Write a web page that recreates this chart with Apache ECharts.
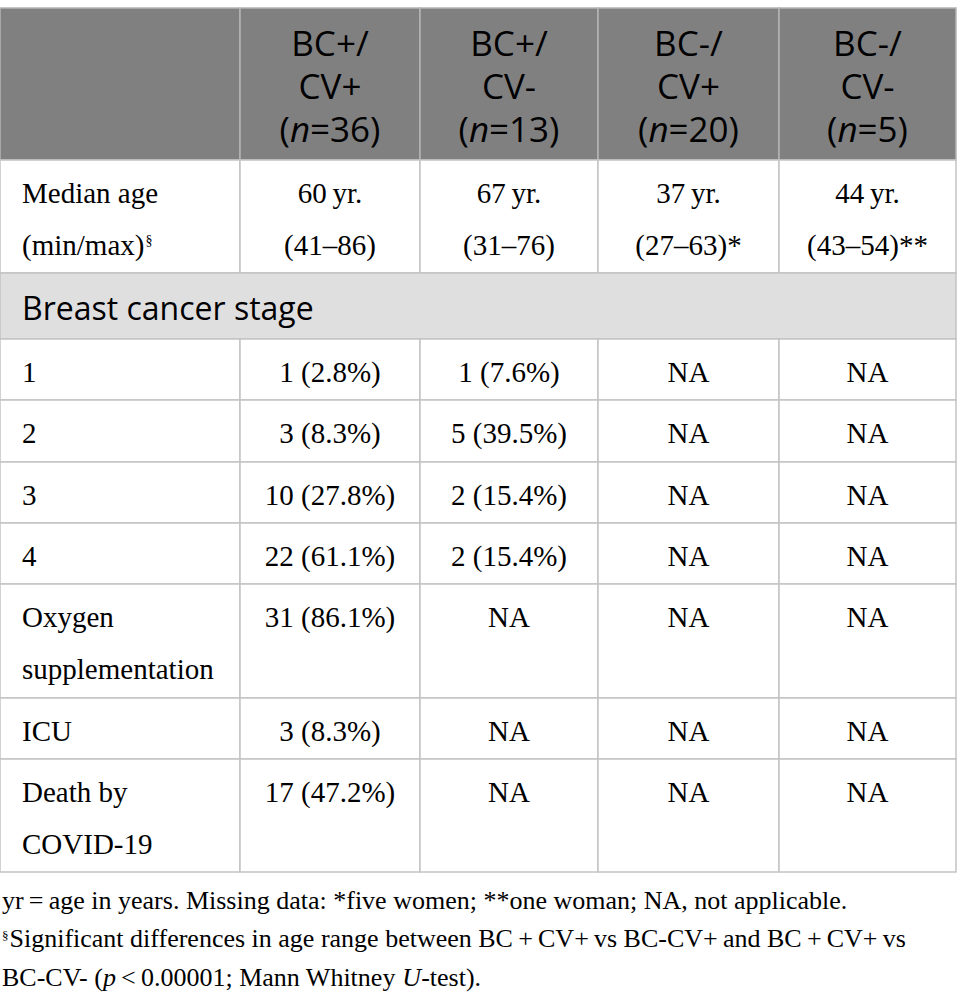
<!DOCTYPE html>
<html>
<head>
<meta charset="utf-8">
<script src="https://cdn.jsdelivr.net/npm/echarts@6/dist/echarts.min.js"></script>
<style>
  html, body { margin: 0; padding: 0; background: #fff; }
  #main { width: 957px; height: 1004px; }
</style>
</head>
<body>
<div id="main"></div>
<script>
// 表格内容
const groupTop = ['BC+/', 'BC+/', 'BC-/', 'BC-/'];
const groupMid = ['CV+', 'CV-', 'CV+', 'CV-'];
const groupN = [36, 13, 20, 5];
const medianAge = [60, 67, 37, 44];
const ageRange = ['(41–86)', '(31–76)', '(27–63)*', '(43–54)**'];
const sectionTitle = 'Breast cancer stage';
const stageLabels = ['1', '2', '3', '4'];
const stageBCpCVp = ['1 (2.8%)', '3 (8.3%)', '10 (27.8%)', '22 (61.1%)'];
const stageBCpCVm = ['1 (7.6%)', '5 (39.5%)', '2 (15.4%)', '2 (15.4%)'];
const outcomeLabels = [['Oxygen', 'supplementation'], ['ICU'], ['Death by', 'COVID-19']];
const outcomeBCpCVp = ['31 (86.1%)', '3 (8.3%)', '17 (47.2%)'];
const notApplicable = 'NA';
const footnotes = [
  '{f|yr\u2009=\u2009age in years. Missing data: *five women; **one woman; NA, not applicable.}',
  '{sup|§}{f|Significant differences in age range between BC\u2009+\u2009CV+\u2009vs BC-CV+\u2009and BC\u2009+\u2009CV+\u2009vs}',
  '{f|BC-CV- (}{fi|p}{f|\u2009<\u20090.00001; Mann Whitney }{fi|U}{f|-test).}'
];

// 版式
const W = 957, H = 1004;
const colEdges = [0, 240, 420, 598, 779, 956];
const rowEdges = [8, 160, 273, 339, 400, 462, 523, 584, 698, 759, 872];
const SERIF = '"Liberation Serif", "Times New Roman", serif';
const SANS = '"Open Sans", "Noto Sans", sans-serif';
const INK = '#231f20';

// 组装单元格
const cells = [];
cells.push({ col: 0, row: 0, span: 1, kind: 'head', text: '' });
groupTop.forEach((g, i) => {
  cells.push({
    col: i + 1, row: 0, span: 1, kind: 'head',
    text: `{h|${g}}\n{h|${groupMid[i]}}\n{h|(}{hi|n}{h|=${groupN[i]})}`
  });
});
cells.push({ col: 0, row: 1, span: 1, kind: 'label', text: '{b|Median age}\n{b|(min/max)}{sup|§}' });
medianAge.forEach((a, i) => {
  cells.push({ col: i + 1, row: 1, span: 1, kind: 'value', text: `{b|${a}\u2009yr.}\n{b|${ageRange[i]}}` });
});
cells.push({ col: 0, row: 2, span: 5, kind: 'section', text: `{s|${sectionTitle}}` });
stageLabels.forEach((s, i) => {
  const r = 3 + i;
  cells.push({ col: 0, row: r, span: 1, kind: 'label', text: `{b|${s}}` });
  cells.push({ col: 1, row: r, span: 1, kind: 'value', text: `{b|${stageBCpCVp[i]}}` });
  cells.push({ col: 2, row: r, span: 1, kind: 'value', text: `{b|${stageBCpCVm[i]}}` });
  cells.push({ col: 3, row: r, span: 1, kind: 'value', text: `{b|${notApplicable}}` });
  cells.push({ col: 4, row: r, span: 1, kind: 'value', text: `{b|${notApplicable}}` });
});
outcomeLabels.forEach((lines, i) => {
  const r = 7 + i;
  cells.push({ col: 0, row: r, span: 1, kind: 'label', text: lines.map(l => `{b|${l}}`).join('\n') });
  cells.push({ col: 1, row: r, span: 1, kind: 'value', text: `{b|${outcomeBCpCVp[i]}}` });
  for (let c = 2; c <= 4; c++) {
    cells.push({ col: c, row: r, span: 1, kind: 'value', text: `{b|${notApplicable}}` });
  }
});

const rich = {
  h: { fontFamily: SANS, fontSize: 35, color: '#fff', lineHeight: 43 },
  hi: { fontFamily: SANS, fontSize: 35, fontStyle: 'italic', color: '#fff', lineHeight: 43 },
  b: { fontFamily: SERIF, fontSize: 29, color: INK, lineHeight: 52 },
  sup: { fontFamily: SERIF, fontSize: 14, color: INK, lineHeight: 14, verticalAlign: 'top', padding: [14, 0, 0, 1] },
  s: { fontFamily: SANS, fontSize: 32, color: INK, lineHeight: 40 }
};

function renderCell(params, api) {
  const cell = cells[params.dataIndex];
  const p0 = api.coord([colEdges[cell.col], rowEdges[cell.row]]);
  const p1 = api.coord([colEdges[cell.col + cell.span], rowEdges[cell.row + 1]]);
  const x = p0[0], y = p0[1], w = p1[0] - p0[0], h = p1[1] - p0[1];
  const fill = cell.kind === 'head' ? '#808080' : cell.kind === 'section' ? '#e0dfe0' : '#fff';
  const stroke = cell.kind === 'head' ? '#b4b4b4' : '#c3c3c3';
  const children = [{
    type: 'rect',
    shape: { x, y, width: w, height: h },
    style: { fill, stroke, lineWidth: 1.5 }
  }];
  if (cell.text) {
    let style;
    if (cell.kind === 'head') {
      style = { x: x + w / 2, y: y + 13, align: 'center', verticalAlign: 'top' };
    } else if (cell.kind === 'section') {
      style = { x: x + 22, y: y + h / 2 + 1, align: 'left', verticalAlign: 'middle' };
    } else if (cell.kind === 'label') {
      style = { x: x + 22, y: y + 7, align: 'left', verticalAlign: 'top' };
    } else {
      style = { x: x + w / 2, y: y + 7, align: 'center', verticalAlign: 'top' };
    }
    style.text = cell.text;
    style.rich = rich;
    children.push({ type: 'text', style });
  }
  return { type: 'group', children };
}

const chart = echarts.init(document.getElementById('main'), null, { renderer: 'svg' });
chart.setOption({
  animation: false,
  grid: { left: 0, right: 0, top: 0, bottom: 0 },
  xAxis: { type: 'value', min: 0, max: W, show: false },
  yAxis: { type: 'value', min: 0, max: H, inverse: true, show: false },
  series: [{
    type: 'custom',
    renderItem: renderCell,
    data: cells.map(c => [colEdges[c.col], rowEdges[c.row]]),
    silent: true
  }],
  graphic: footnotes.map((t, i) => ({
    type: 'text',
    x: 2,
    y: 881 + i * 38.5,
    style: {
      text: t,
      verticalAlign: 'top',
      rich: {
        f: { fontFamily: SERIF, fontSize: 26, color: INK, lineHeight: 38 },
        fi: { fontFamily: SERIF, fontSize: 26, fontStyle: 'italic', color: INK, lineHeight: 38 },
        sup: { fontFamily: SERIF, fontSize: 13, color: INK, lineHeight: 13, verticalAlign: 'top', padding: [9, 1, 0, 0] }
      }
    }
  }))
});
window.addEventListener('resize', () => chart.resize());
</script>
</body>
</html>
